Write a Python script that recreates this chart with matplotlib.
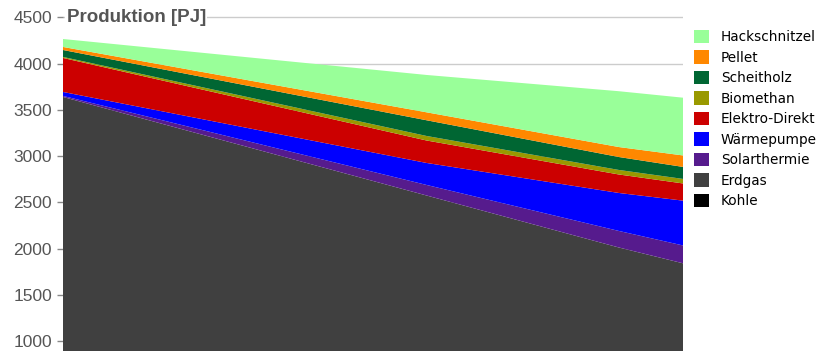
import numpy as np
import matplotlib.pyplot as plt
from matplotlib.patches import Patch

plt.rcParams.update({"font.family": ["Liberation Sans", "DejaVu Sans"]})

#%%
# Stützjahre und Produktion je Energieträger [PJ]
jahre = [2015, 2032, 2041, 2044]

kohle = [0, 0, 0, 0]
erdgas = [3640, 2574, 2011, 1840]
solarthermie = [11, 114, 179, 193]
waermepumpe = [43, 238, 411, 485]
elektro_direkt = [368, 243, 200, 186]
biomethan = [11, 49, 49, 49]
scheitholz = [75, 170, 140, 130]
pellet = [33, 86, 108, 124]
hackschnitzel = [86, 404, 604, 625]

namen = ["Kohle", "Erdgas", "Solarthermie", "Wärmepumpe", "Elektro-Direkt",
         "Biomethan", "Scheitholz", "Pellet", "Hackschnitzel"]
farben = ["#000000", "#404040", "#561b8d", "#0000ff", "#cc0000",
          "#999900", "#006633", "#ff8800", "#99ff99"]

y_ticks = [1000, 1500, 2000, 2500, 3000, 3500, 4000, 4500]

#%%
fig = plt.figure(figsize=(8.29, 3.51), dpi=100)
ax = fig.add_axes([63/829, 0, 620/829, 1])

ax.stackplot(jahre, kohle, erdgas, solarthermie, waermepumpe, elektro_direkt,
             biomethan, scheitholz, pellet, hackschnitzel,
             colors=farben, linewidth=0, zorder=2)

ax.set_xlim(jahre[0], jahre[-1])
ax.set_ylim(891, 4689)
ax.set_yticks(y_ticks)
ax.set_xticks([])
ax.grid(axis="y", color="#cccccc", linewidth=1, zorder=0)

for side in ["top", "bottom", "left", "right"]:
    ax.spines[side].set_visible(False)
ax.tick_params(axis="y", length=4, width=1, color="#888888", pad=4,
               labelsize=12.5, labelcolor="#555555")

ax.text(0.006, 4500, "Produktion [PJ]", fontsize=13.5, fontweight="bold",
        color="#555555", va="center", ha="left",
        transform=ax.get_yaxis_transform(),
        bbox=dict(facecolor="white", edgecolor="none", pad=1), zorder=3)

# Legende oben rechts, gleiche Reihenfolge wie der Stapel von oben
handles = [Patch(facecolor=c, edgecolor="none") for c in farben[::-1]]
fig.legend(handles, namen[::-1], loc="upper left",
           bbox_to_anchor=(691/829, 1 - 27/351), frameon=False,
           prop={"family": "DejaVu Sans", "size": 9.8},
           handlelength=1.15, handleheight=1.15, handletextpad=0.85,
           labelspacing=0.45, borderaxespad=0, borderpad=0.2)

fig.savefig("out.png", dpi=100)
